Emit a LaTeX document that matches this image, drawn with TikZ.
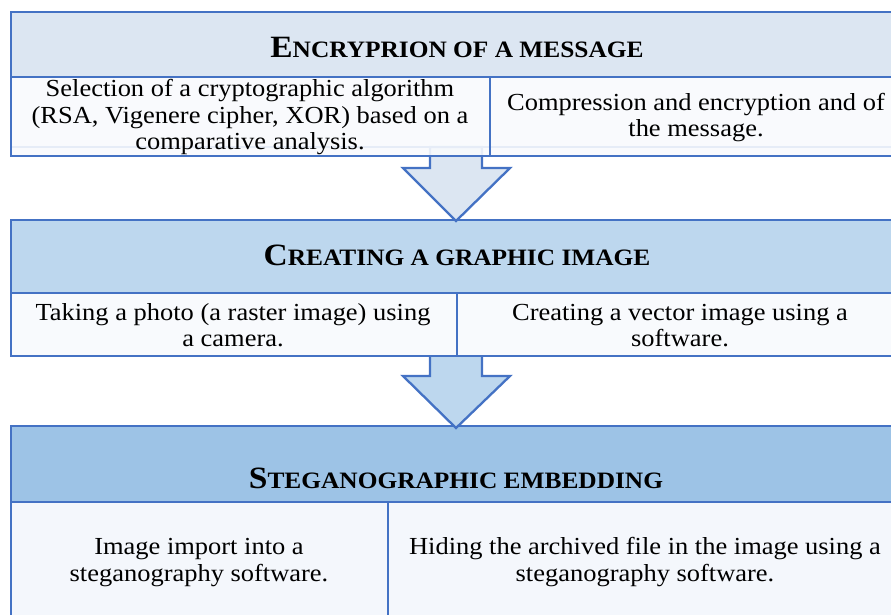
\documentclass[tikz,border=0pt]{standalone}
\usepackage{fontspec}
\setmainfont[FakeStretch=1.08]{Liberation Serif}
\definecolor{bord}{HTML}{4472C4}
\definecolor{hdrA}{HTML}{DCE6F2}
\definecolor{hdrB}{HTML}{BDD7EE}
\definecolor{hdrC}{HTML}{9DC3E6}
\definecolor{lowA}{HTML}{F8FAFD}
\definecolor{lowC}{HTML}{F4F7FC}
\newcommand\hdrtext[2]{\bfseries{\fontsize{31}{31}\selectfont #1}{\fontsize{23.5}{23.5}\selectfont #2}}
\begin{document}
\begin{tikzpicture}[x=1pt,y=-1pt,
  box/.style={draw=bord, line width=2.3pt, inner sep=0pt, anchor=north west},
  lowbox/.style={box, fill opacity=0.9},
  blockarrow/.style={draw=bord, line width=2.3pt, line join=miter},
  txt/.style={anchor=base, inner sep=0pt, text=black, font=\fontsize{24.5}{26.5}\selectfont},
  txtc/.style={anchor=base, inner sep=0pt, text=black, font=\fontsize{24.5}{27.6}\selectfont},
  htxt/.style={anchor=base, inner sep=0pt, text=black}]
\useasboundingbox (0,0) rectangle (891,614);
\clip (0,0) rectangle (891,614);
% headers
\node[box, fill=hdrA, minimum width=893pt, minimum height=65pt] (h1) at (10,11) {};
\node[box, fill=hdrB, minimum width=893pt, minimum height=73pt] (h2) at (10,219) {};
\node[box, fill=hdrC, minimum width=893pt, minimum height=76pt] (h3) at (10,425) {};
% faint line behind first row
\draw[bord, line width=1.5pt] (10,147) -- (903,147);
% block arrows
\coordinate (a1tip) at (456,221);
\coordinate (a2tip) at (456,428);
\draw[blockarrow, fill=hdrA] (430,147) -- (430,168) -- (403,168) -- (a1tip) -- (510,168) -- (482,168) -- (482,147) -- cycle;
\draw[blockarrow, fill=hdrB] (430,355) -- (430,376) -- (403,376) -- (a2tip) -- (510,376) -- (482,376) -- (482,355) -- cycle;
% lower boxes
\node[lowbox, fill=lowA, minimum width=479pt, minimum height=79pt] (l1a) at (10,76) {};
\node[lowbox, fill=lowA, minimum width=414pt, minimum height=79pt] (l1b) at (489,76) {};
\node[box, fill=lowA, minimum width=446pt, minimum height=63pt] (l2a) at (10,292) {};
\node[box, fill=lowA, minimum width=447pt, minimum height=63pt] (l2b) at (456,292) {};
\node[box, fill=lowC, minimum width=377pt, minimum height=130pt] (l3a) at (10,501) {};
\node[box, fill=lowC, minimum width=516pt, minimum height=130pt] (l3b) at (387,501) {};
% header texts
\node[htxt] (t1) at (457,57.5) {\hdrtext{E}{NCRYPRION OF A MESSAGE}};
\node[htxt] (t2) at (457,265) {\hdrtext{C}{REATING A GRAPHIC IMAGE}};
\node[htxt] (t3) at (456,488) {\hdrtext{S}{TEGANOGRAPHIC EMBEDDING}};
% body texts
\node[txt] (t1a) at (250,96.5) {\begin{tabular}[t]{@{}c@{}}Selection of a cryptographic algorithm\\(RSA, Vigenere cipher, XOR) based on a\\comparative analysis.\end{tabular}};
\node[txt] (t1b) at (696,110) {\begin{tabular}[t]{@{}c@{}}Compression and encryption and of\\the message.\end{tabular}};
\node[txt] (t2a) at (233,320) {\begin{tabular}[t]{@{}c@{}}Taking a photo (a raster image) using\\a camera.\end{tabular}};
\node[txt] (t2b) at (680,320) {\begin{tabular}[t]{@{}c@{}}Creating a vector image using a\\software.\end{tabular}};
\node[txtc] (t3a) at (199,554) {\begin{tabular}[t]{@{}c@{}}Image import into a\\steganography software.\end{tabular}};
\node[txtc] (t3b) at (645,554) {\begin{tabular}[t]{@{}c@{}}Hiding the archived file in the image using a\\steganography software.\end{tabular}};
\end{tikzpicture}
\end{document}
